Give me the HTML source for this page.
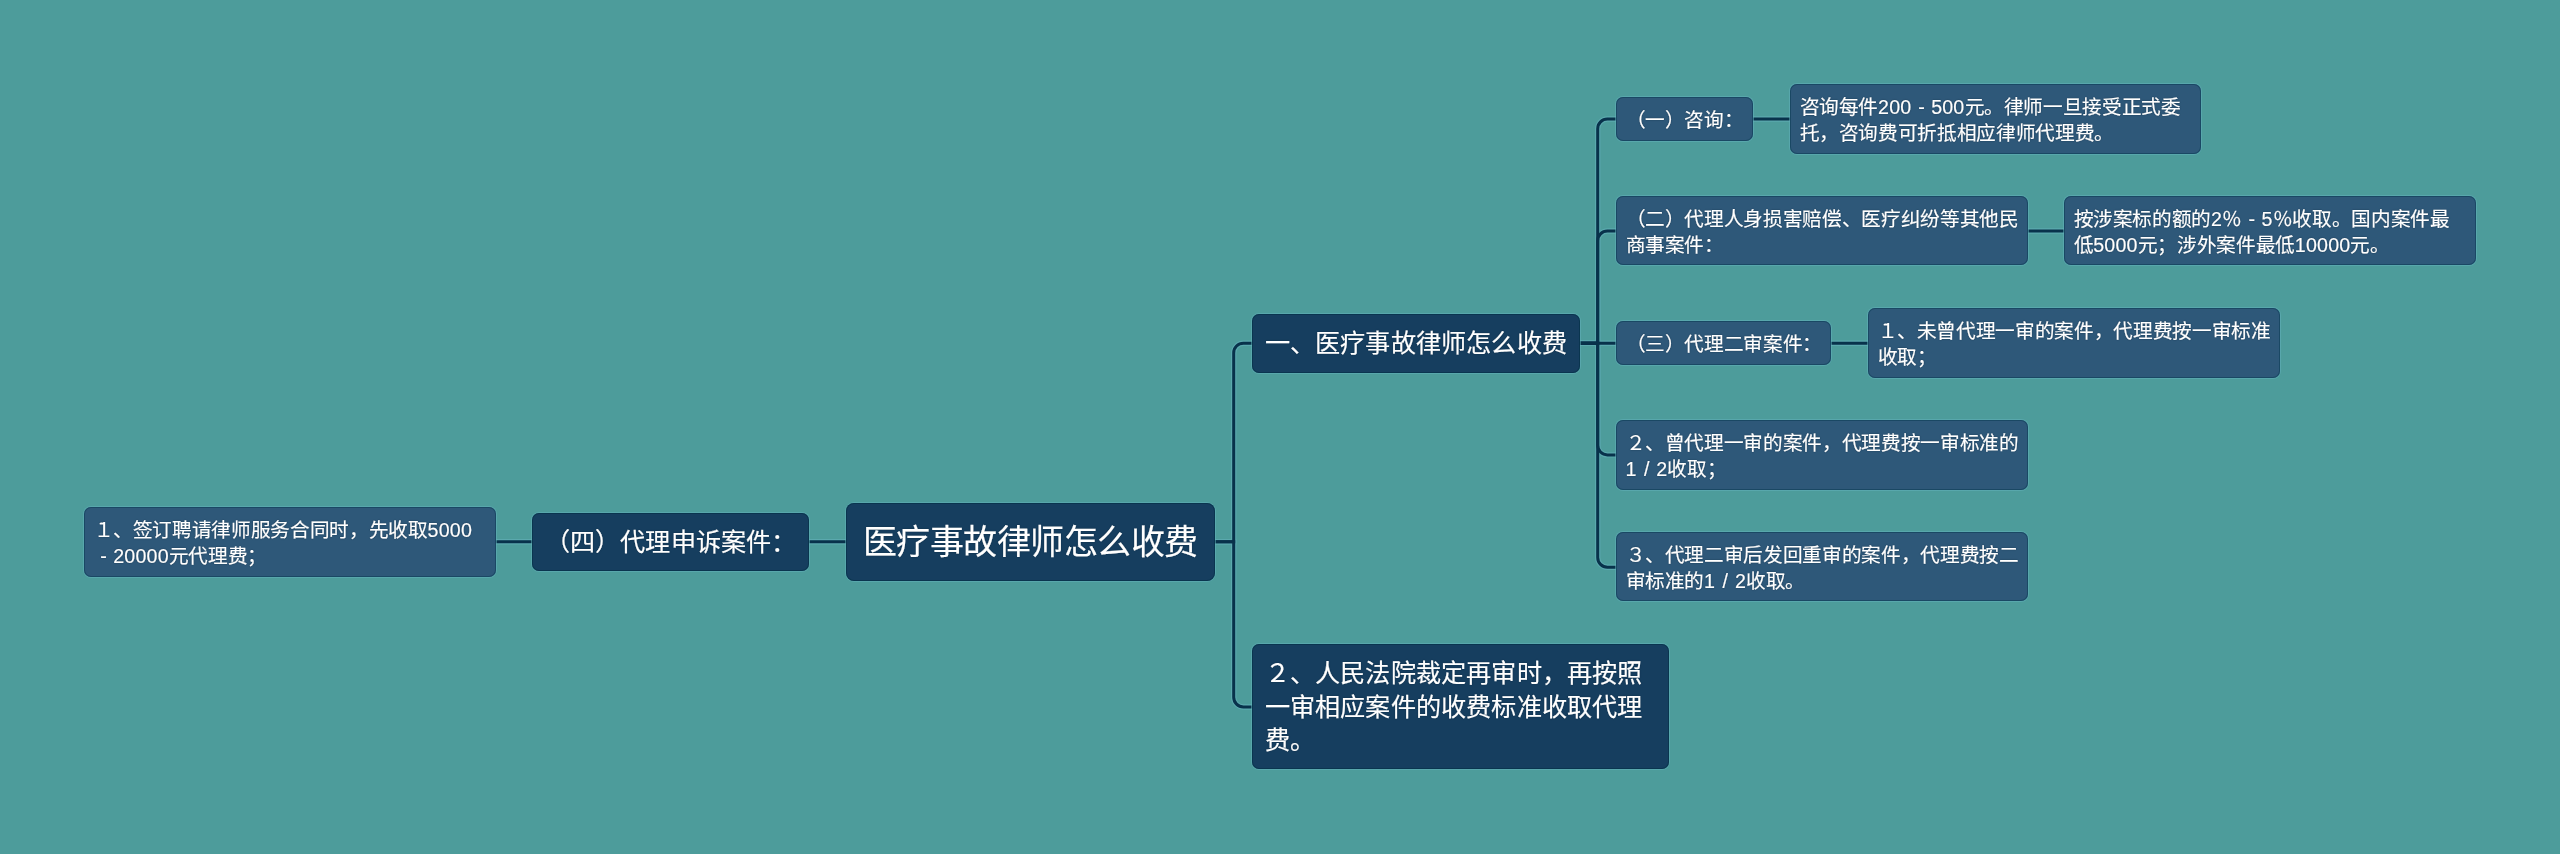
<!DOCTYPE html>
<html lang="zh-CN"><head><meta charset="utf-8">
<style>
html,body{margin:0;padding:0;}
body{width:2560px;height:854px;background:#4d9c9b;position:relative;overflow:hidden;font-family:"Liberation Sans",sans-serif;color:#fff;}
svg.lines{position:absolute;left:0;top:0;}
.h path{stroke:#5ba9ae;stroke-width:5.4;}
.c path{stroke:#08324b;stroke-width:3;}
.n{will-change:transform;position:absolute;box-sizing:border-box;white-space:nowrap;border-radius:7px;-webkit-text-stroke:0.2px #fff;text-shadow:0 0 1.2px rgba(0,25,45,0.9);}
.d{background:#163e5f;box-shadow:0 0 0 1px rgba(98,176,186,0.55),inset 0 0 0 1px rgba(4,48,68,0.6);}
.l{background:#2e5879;box-shadow:0 0 0 1px rgba(98,176,186,0.55),inset 0 0 0 1px rgba(14,62,86,0.6);}
.s{font-size:19.65px;letter-spacing:-0.35px;line-height:25.6px;padding:11px 0 0 9.5px;}
.m{font-size:25.15px;letter-spacing:0.2px;line-height:33.5px;padding:13.3px 0 0 12.6px;}
.r{font-size:34px;letter-spacing:-0.52px;line-height:44px;padding:17px 0 0 17px;border-radius:8px;}
.fw{display:inline-block;width:1em;text-align:center;}
.g{letter-spacing:0.2px;}
</style></head><body>
<svg class="lines" width="2560" height="854" viewBox="0 0 2560 854" fill="none">
<g class="h">
<path d="M852 541.7H800"/>
<path d="M540 541.7H488"/>
<path d="M1210 541.7H1233.7V352.9A9.7 9.7 0 0 1 1243.4 343.2H1258"/>
<path d="M1210 541.7H1233.7V697.3A9.7 9.7 0 0 0 1243.4 707H1258"/>
<path d="M1575 343.2H1597.7V128.7A9.7 9.7 0 0 1 1607.4 119H1620"/>
<path d="M1575 343.2H1597.7V240.7A9.7 9.7 0 0 1 1607.4 231H1620"/>
<path d="M1575 343.2H1620"/>
<path d="M1575 343.2H1597.7V445.2A9.7 9.7 0 0 0 1607.4 454.9H1620"/>
<path d="M1575 343.2H1597.7V557.55A9.7 9.7 0 0 0 1607.4 567.25H1620"/>
<path d="M1745 119H1798"/>
<path d="M2020 231H2072"/>
<path d="M1824 343.2H1876"/>
</g>
<g class="c">
<path d="M852 541.7H800"/>
<path d="M540 541.7H488"/>
<path d="M1210 541.7H1233.7V352.9A9.7 9.7 0 0 1 1243.4 343.2H1258"/>
<path d="M1210 541.7H1233.7V697.3A9.7 9.7 0 0 0 1243.4 707H1258"/>
<path d="M1575 343.2H1597.7V128.7A9.7 9.7 0 0 1 1607.4 119H1620"/>
<path d="M1575 343.2H1597.7V240.7A9.7 9.7 0 0 1 1607.4 231H1620"/>
<path d="M1575 343.2H1620"/>
<path d="M1575 343.2H1597.7V445.2A9.7 9.7 0 0 0 1607.4 454.9H1620"/>
<path d="M1575 343.2H1597.7V557.55A9.7 9.7 0 0 0 1607.4 567.25H1620"/>
<path d="M1745 119H1798"/>
<path d="M2020 231H2072"/>
<path d="M1824 343.2H1876"/>
</g>
</svg>

<div class="n d r" style="left:846px;top:503px;width:369.3px;height:77.7px;">医疗事故律师怎么收费</div>

<div class="n d m" style="left:1252px;top:313.8px;width:327.5px;height:59px;">一、医疗事故律师怎么收费</div>
<div class="n d m" style="left:1252px;top:644.4px;width:416.8px;height:125.1px;">２、人民法院裁定再审时，再按照<br>一审相应案件的收费标准收取代理<br>费。</div>
<div class="n d m" style="left:532.3px;top:512.7px;width:276.6px;height:58.1px;">（四）代理申诉案件：</div>

<div class="n l s" style="left:84px;top:507.1px;width:411.6px;height:69.6px;">１、签订聘请律师服务合同时，先收取<span class="g">5000</span><br><span class="fw">-</span><span class="g">20000</span>元代理费；</div>

<div class="n l s" style="left:1616.2px;top:97px;width:136.8px;height:44px;">（一）咨询：</div>
<div class="n l s" style="left:1790px;top:84px;width:411.3px;height:69.7px;">咨询每件<span class="g">200</span><span class="fw">-</span><span class="g">500</span>元。律师一旦接受正式委<br>托，咨询费可折抵相应律师代理费。</div>
<div class="n l s" style="left:1616.2px;top:196.2px;width:411.5px;height:69.4px;">（二）代理人身损害赔偿、医疗纠纷等其他民<br>商事案件：</div>
<div class="n l s" style="left:2064.4px;top:196.2px;width:411.5px;height:69.4px;">按涉案标的额的<span class="g">2</span>％<span class="fw">-</span><span class="g">5</span>％收取。国内案件最<br>低<span class="g">5000</span>元；涉外案件最低<span class="g">10000</span>元。</div>
<div class="n l s" style="left:1616.4px;top:321px;width:215px;height:44px;">（三）代理二审案件：</div>
<div class="n l s" style="left:1868.4px;top:308.1px;width:411.5px;height:69.8px;">１、未曾代理一审的案件，代理费按一审标准<br>收取；</div>
<div class="n l s" style="left:1616px;top:420px;width:412px;height:69.6px;">２、曾代理一审的案件，代理费按一审标准的<br><span class="g">1</span><span class="fw">/</span><span class="g">2</span>收取；</div>
<div class="n l s" style="left:1616px;top:532.2px;width:412px;height:69.4px;">３、代理二审后发回重审的案件，代理费按二<br>审标准的<span class="g">1</span><span class="fw">/</span><span class="g">2</span>收取。</div>
</body></html>
